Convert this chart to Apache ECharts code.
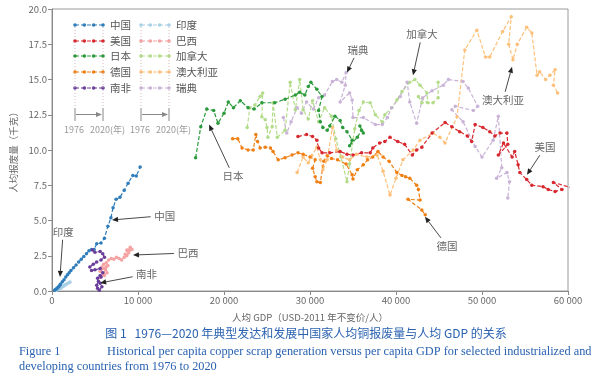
<!DOCTYPE html>
<html>
<head>
<meta charset="utf-8">
<script src="https://cdn.jsdelivr.net/npm/echarts@6/dist/echarts.min.js"></script>
<style>
html, body { margin: 0; padding: 0; background: #fff; }
#chart { width: 600px; height: 376px; }
</style>
</head>
<body>
<div id="chart"></div>
<script>
// 人均 GDP (USD-2011) 与人均铜报废量 (千克)，1976 -> 2020
const china = [[300,0.05],[400,0.1],[500,0.15],[600,0.2],[700,0.26],[800,0.32],[900,0.4],[1000,0.5],[1200,0.65],[1400,0.8],[1600,1.0],[1800,1.15],[2000,1.3],[2200,1.45],[2500,1.65],[2800,1.85],[3100,2.05],[3400,2.25],[3700,2.45],[4000,2.65],[4300,2.85],[4600,2.95],[4900,2.95],[5200,3.35],[5700,3.4],[6100,3.75],[6500,4.6],[6850,5.2],[7100,5.9],[7450,6.5],[7900,6.65],[8400,7.15],[8850,7.65],[9400,8.2],[9800,8.15],[10250,8.8]];
const usa = [[28600,10.95],[29600,11.1],[30300,10.95],[30800,10.7],[31000,10.15],[31400,9.8],[32300,9.8],[33500,9.9],[34300,9.7],[35000,9.65],[36000,9.8],[37000,9.8],[37300,10.15],[38100,10.5],[38700,10.6],[39300,10.9],[40200,10.6],[41000,10.4],[41900,9.65],[42400,10.0],[43000,10.2],[44200,11.2],[45700,11.95],[46500,11.65],[47400,11.3],[48300,11.0],[48800,10.6],[49200,11.8],[50100,11.6],[50900,11.3],[51500,11.0],[52100,11.2],[52900,11.2],[53000,10.4],[51900,9.65],[52500,10.5],[53500,9.5],[53800,9.9],[54200,8.95],[54400,8.4],[55200,7.9],[55800,7.5],[57100,7.4],[57700,7.2],[58500,7.05],[59300,7.2],[58300,7.7],[60500,7.3]];
const japan = [[16700,9.45],[17300,11.65],[18000,12.9],[18800,12.8],[19300,11.9],[20000,12.6],[20500,13.4],[21100,13.0],[21900,13.5],[22800,13.0],[23500,12.9],[24400,13.35],[25900,13.35],[27100,13.6],[28300,13.9],[28800,14.1],[29400,13.9],[29800,14.5],[30100,14.8],[30800,14.3],[31400,13.8],[31000,12.8],[31200,12.0],[31500,11.6],[32000,11.4],[32300,11.7],[32900,12.4],[33500,12.1],[33800,11.6],[34300,11.3],[34900,10.7],[34600,10.3],[35500,10.9],[36000,11.4],[35800,11.7],[36200,11.2]];
const germany = [[21000,10.8],[21600,10.8],[22100,10.15],[22800,10.0],[23400,10.0],[23700,11.1],[23900,10.6],[24200,10.15],[24800,10.2],[25400,10.15],[25700,9.9],[26300,9.3],[27100,9.45],[27900,9.65],[28600,9.8],[29200,9.7],[30000,9.5],[30600,9.3],[30300,8.7],[30600,8.1],[30800,7.75],[31200,7.7],[31600,9.2],[32000,9.6],[32500,9.4],[33200,9.3],[34200,9.0],[34900,8.25],[35000,7.95],[35500,8.6],[36200,8.95],[36700,9.3],[37300,9.5],[37900,9.9],[38500,9.5],[39200,9.2],[40100,8.4],[40700,8.2],[41100,8.1],[41600,8.0],[42400,7.5],[42600,7.2],[42800,6.45],[41400,6.5],[43000,5.75],[43400,5.4]];
const southAfrica = [[4700,2.9],[5000,2.75],[5600,2.8],[5900,2.65],[6100,2.4],[5700,2.2],[5200,2.05],[4800,1.9],[4400,1.7],[4600,1.45],[5000,1.5],[5600,1.6],[5900,1.3],[5700,1.0],[5400,0.7],[5200,0.4],[5300,0.2],[5500,0.05],[5800,0.3],[5600,0.55],[5300,0.9],[5600,1.1]];
const india = [[500,0.05],[600,0.08],[700,0.1],[800,0.13],[900,0.17],[1000,0.2],[1100,0.25],[1200,0.3],[1300,0.33],[1400,0.38],[1500,0.42],[1600,0.46],[1700,0.5],[1850,0.55],[2000,0.6],[2100,0.63]];
const brazil = [[5600,1.4],[5900,1.6],[6200,1.5],[6000,1.2],[5700,1.0],[6100,1.1],[6400,1.3],[6300,1.7],[6000,1.9],[5800,1.7],[6100,1.6],[6500,1.8],[6300,2.0],[6600,2.2],[6900,2.3],[7200,2.25],[7500,2.4],[7800,2.3],[8100,2.2],[8400,2.4],[8700,2.5],[8900,2.9],[9100,3.1],[9300,2.95],[8900,2.7],[8700,2.9],[8500,2.6]];
const canada = [[22700,11.6],[23000,13.0],[23600,13.2],[24200,13.8],[24500,14.05],[24400,12.35],[24800,12.15],[25000,11.6],[25100,10.9],[25600,11.65],[25700,13.35],[26200,10.9],[27100,11.4],[27700,14.8],[28300,12.85],[28800,15.0],[29200,12.85],[29800,12.2],[30300,13.5],[31000,12.0],[31700,13.0],[32500,12.4],[33000,10.8],[33600,9.5],[34300,7.75],[34600,9.0],[35200,11.5],[35700,12.8],[36200,13.4],[37000,13.35],[37600,12.5],[38400,12.0],[38700,12.5],[39500,13.0],[40100,13.55],[40700,14.15],[41600,14.8],[42200,15.0],[42800,14.6],[43600,14.05],[43700,13.35],[42600,13.8],[43000,13.35],[44300,13.35],[44900,13.7],[44900,14.8]];
const australia = [[28500,8.4],[29200,9.5],[29800,9.1],[30200,9.6],[30800,10.2],[31200,9.3],[31500,8.6],[32000,9.3],[32600,11.6],[33100,10.0],[33800,9.5],[34600,9.3],[35400,9.7],[36600,9.5],[37800,9.65],[38500,8.5],[39300,6.8],[40000,8.0],[40800,9.3],[42000,10.0],[42800,10.7],[44300,11.2],[45100,10.9],[45700,10.5],[47100,12.35],[48000,17.1],[49400,18.5],[50400,16.6],[50900,16.6],[52400,18.4],[53400,19.45],[53100,17.5],[53600,16.4],[54100,17.5],[55200,18.7],[55800,18.3],[56400,15.3],[56700,15.55],[57400,15.0],[57900,15.3],[58500,15.7],[58300,14.6],[58800,14.05]];
const sweden = [[26900,12.3],[27300,11.2],[27800,12.0],[28500,13.0],[29000,12.6],[29600,13.4],[30400,12.9],[31000,13.7],[31700,13.9],[32600,14.85],[33100,15.0],[33700,14.8],[34200,15.5],[34100,14.6],[33500,13.4],[34600,14.05],[34900,13.55],[35000,12.3],[36200,12.3],[37600,11.8],[38400,11.8],[39000,12.3],[39500,13.0],[40500,13.8],[41300,14.8],[41600,13.4],[42400,11.9],[43100,13.7],[44200,14.2],[45500,14.6],[46100,15.0],[47800,14.85],[48400,14.4],[49500,13.1],[49000,12.8],[46900,13.1],[46500,12.85],[47800,12.0],[49200,10.25],[50000,9.5],[51300,10.7],[51900,12.4],[52300,8.75],[51700,8.0],[52900,8.4],[53200,7.75],[53000,6.6]];

const names = ['中国', '美国', '日本', '德国', '南非', '印度', '巴西', '加拿大', '澳大利亚', '瑞典'];
const colors = ['#2f7dbb', '#d7282f', '#2a9a3a', '#f07f14', '#6a3d9a', '#a8d0e6', '#f4a2a2', '#b3dc8a', '#fdc07a', '#c9b3d7'];
const seriesData = [china, usa, japan, germany, southAfrica, india, brazil, canada, australia, sweden];

// 标注：[文字, 文字位置, 箭头尖]
const notes = [
    ['印度', [1300, 4.2], [930, 1.0]],
    ['中国', [13100, 5.35], [6980, 5.04]],
    ['巴西', [15800, 2.7], [9420, 2.55]],
    ['南非', [11000, 1.2], [5600, 0.57]],
    ['日本', [21050, 8.17], [18260, 11.8]],
    ['瑞典', [35580, 17.1], [34300, 15.5]],
    ['加拿大', [43020, 18.2], [41980, 15.3]],
    ['澳大利亚', [52440, 13.56], [53490, 15.9]],
    ['美国', [57330, 10.2], [55230, 8.24]],
    ['德国', [45930, 3.2], [43370, 5.26]]
];

const cjk = '"Noto Sans CJK SC", "Noto Sans", sans-serif';

let chart = echarts.init(document.getElementById('chart'));

// 浅色在下，深色在上
let order = [5, 6, 7, 8, 9, 0, 1, 2, 3, 4];
let series = order.map(function(i) {
    return {
        name: names[i],
        type: 'line',
        data: seriesData[i],
        symbol: 'circle',
        symbolSize: 3.5,
        clip: true,
        itemStyle: { color: colors[i] },
        lineStyle: { color: colors[i], width: 1.2, type: [4, 2] }
    };
});

let option = {
    animation: false,
    grid: { left: 52, right: 32, top: 9, bottom: 85, show: true, borderColor: '#9a9a9a', borderWidth: 1 },
    xAxis: {
        type: 'value', min: 0, max: 60000, interval: 10000,
        name: '人均 GDP（USD-2011 年不变价/人）', nameLocation: 'middle', nameGap: 22,
        nameTextStyle: { fontFamily: cjk, fontSize: 9.5, color: '#666' },
        axisLine: { lineStyle: { color: '#8a8a8a' } },
        axisTick: { length: 4, lineStyle: { color: '#8a8a8a' } },
        axisLabel: {
            fontFamily: cjk, fontSize: 9.5, color: '#666', margin: 5,
            formatter: function(v) { return v === 0 ? '0' : (v / 1000) + ' 000'; }
        },
        splitLine: { show: false }
    },
    yAxis: {
        type: 'value', min: 0, max: 20, interval: 2.5,
        name: '人均报废量（千克）', nameLocation: 'middle', nameGap: 34, nameRotate: 90,
        nameTextStyle: { fontFamily: cjk, fontSize: 9.5, color: '#666' },
        axisLine: { show: true, lineStyle: { color: '#8a8a8a' } },
        axisTick: { show: true, length: 4, lineStyle: { color: '#8a8a8a' } },
        axisLabel: { fontFamily: cjk, fontSize: 9.5, color: '#666', margin: 5, formatter: function(v) { return v.toFixed(1); } },
        splitLine: { show: false }
    },
    series: series
};
chart.setOption(option);

let g = [];

// 图例
let rowsY = [25, 41, 56, 72, 88];
[75, 141].forEach(function(x0, c) {
    for (let r = 0; r < 5; r++) {
        let k = c * 5 + r;
        let y = rowsY[r];
        g.push({ type: 'line', shape: { x1: x0, y1: y, x2: x0 + 28, y2: y }, style: { stroke: colors[k], lineWidth: 1.2, lineDash: [4, 2] } });
        for (let d = 0; d < 4; d++) {
            g.push({ type: 'circle', shape: { cx: x0 + d * 28 / 3, cy: y, r: 1.8 }, style: { fill: colors[k] } });
        }
        g.push({ type: 'text', style: { text: names[k], x: x0 + 35, y: y, fill: '#555', font: '10.5px ' + cjk, textAlign: 'left', textVerticalAlign: 'middle' } });
    }
    [x0, x0 + 28].forEach(function(xx) {
        g.push({ type: 'line', shape: { x1: xx, y1: 27, x2: xx, y2: 108 }, style: { stroke: '#c9a6ad', lineWidth: 0.8, lineDash: [1, 2] } });
        g.push({ type: 'line', shape: { x1: xx, y1: 108, x2: xx, y2: 121 }, style: { stroke: '#888', lineWidth: 1 } });
    });
    g.push({ type: 'line', shape: { x1: x0 + 1, y1: 114.5, x2: x0 + 25, y2: 114.5 }, style: { stroke: '#888', lineWidth: 1 } });
    g.push({ type: 'polygon', shape: { points: [[x0 + 27, 114.5], [x0 + 21, 112], [x0 + 21, 117]] }, style: { fill: '#888' } });
    g.push({ type: 'text', style: { text: '1976', x: x0 - 1, y: 130, fill: '#999', font: '9px ' + cjk, textAlign: 'center', textVerticalAlign: 'middle' } });
    g.push({ type: 'text', style: { text: '2020(年)', x: x0 + 15, y: 130, fill: '#999', font: '9px ' + cjk, textAlign: 'left', textVerticalAlign: 'middle' } });
});

// 标注与箭头
notes.forEach(function(n) {
    let t = chart.convertToPixel({ gridIndex: 0 }, n[1]);
    let p = chart.convertToPixel({ gridIndex: 0 }, n[2]);
    let dx = p[0] - t[0], dy = p[1] - t[1];
    let len = Math.sqrt(dx * dx + dy * dy);
    let ux = dx / len, uy = dy / len;
    let hw = n[0].length * 5.5 + 3, hh = 8;
    let gap = Math.min(Math.abs(ux) > 1e-6 ? hw / Math.abs(ux) : 1e9, Math.abs(uy) > 1e-6 ? hh / Math.abs(uy) : 1e9);
    let sx = t[0] + ux * gap, sy = t[1] + uy * gap;
    let bx = p[0] - ux * 6, by = p[1] - uy * 6;
    g.push({ type: 'text', style: { text: n[0], x: t[0], y: t[1], fill: '#666', font: '10.5px ' + cjk, textAlign: 'center', textVerticalAlign: 'middle' }, z: 100 });
    g.push({ type: 'line', shape: { x1: sx, y1: sy, x2: bx, y2: by }, style: { stroke: '#333', lineWidth: 0.9 }, z: 100 });
    g.push({ type: 'polygon', shape: { points: [[p[0], p[1]], [bx - uy * 2.6, by + ux * 2.6], [bx + uy * 2.6, by - ux * 2.6]] }, style: { fill: '#222' }, z: 100 });
});

// 图题
g.push({ type: 'text', style: { text: '图 1   1976—2020 年典型发达和发展中国家人均铜报废量与人均 GDP 的关系', x: 306, y: 333, fill: '#2a62b0', font: '12px "Noto Sans CJK SC", serif', textAlign: 'center', textVerticalAlign: 'middle' } });
g.push({ type: 'text', style: { text: 'Figure 1', x: 19, y: 352, fill: '#2a62b0', font: '12.3px "Liberation Serif", serif', textAlign: 'left', textVerticalAlign: 'middle' } });
g.push({ type: 'text', style: { text: 'Historical per capita copper scrap generation versus per capita GDP for selected industrialized and', x: 107, y: 352, fill: '#2a62b0', font: '12.3px "Liberation Serif", serif', textAlign: 'left', textVerticalAlign: 'middle' } });
g.push({ type: 'text', style: { text: 'developing countries from 1976 to 2020', x: 19, y: 367, fill: '#2a62b0', font: '12.3px "Liberation Serif", serif', textAlign: 'left', textVerticalAlign: 'middle' } });

chart.setOption({ graphic: g });
window.onresize = chart.resize;
</script>
</body>
</html>
